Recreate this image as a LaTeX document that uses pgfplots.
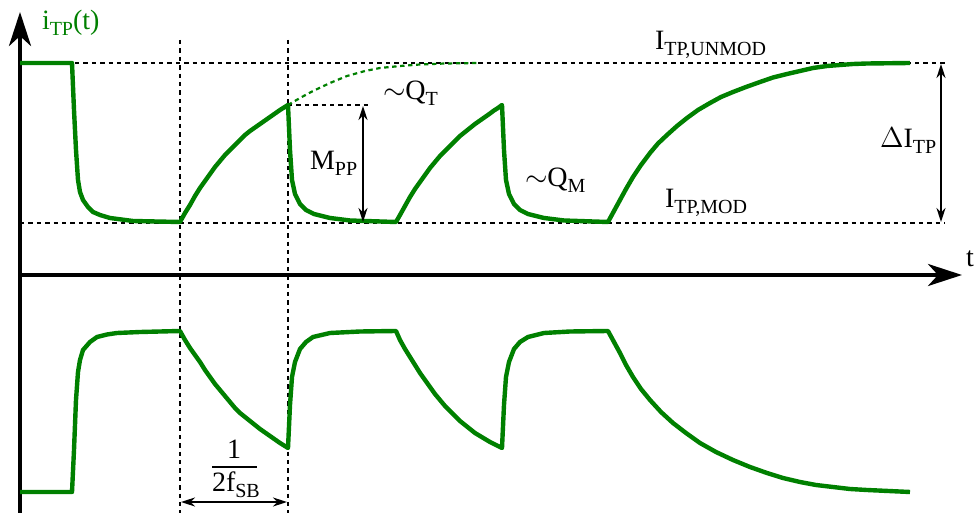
\documentclass[border=0pt]{standalone}
\usepackage{pgfplots}
\pgfplotsset{compat=1.18}
\usepackage{fontspec}
\setmainfont{Liberation Serif}
\usetikzlibrary{arrows.meta}
\definecolor{sig}{RGB}{0,128,0}
% lowered, slightly smaller subscript used in all labels
\newcommand{\sub}[1]{\raisebox{-3pt}{\fontsize{10}{11}\selectfont #1}}
\tikzset{lbl/.style={inner sep=0pt, outer sep=0pt, font=\fontsize{14}{16}\selectfont}}

\begin{document}
\begin{tikzpicture}
\begin{axis}[
  width=488pt, height=256.5pt, scale only axis,
  xmin=0, xmax=976, ymin=0, ymax=513, y dir=reverse,
  hide axis, clip=false,
]
% reference levels and time markers
\draw[line width=1pt, dash pattern=on 2.2pt off 2pt] (axis cs:75,63) -- (axis cs:945,63);
\draw[line width=1pt, dash pattern=on 2.2pt off 2pt] (axis cs:20,223) -- (axis cs:945,223);
\draw[line width=1pt, dash pattern=on 2.2pt off 2pt] (axis cs:288,105) -- (axis cs:370,105);
\draw[line width=1pt, dash pattern=on 2.2pt off 2pt] (axis cs:180,40) -- (axis cs:180,513);
\draw[line width=1pt, dash pattern=on 2.2pt off 2pt] (axis cs:288,40) -- (axis cs:288,513);

% coordinate axes
\draw[line width=2pt, -{Stealth[length=17pt,width=11pt,inset=5pt]}] (axis cs:20,513) -- (axis cs:20,12);
\draw[line width=2pt, -{Stealth[length=17pt,width=11pt,inset=5pt]}] (axis cs:18,275) -- (axis cs:962,275);

% undisturbed continuation of the first rise
\addplot[sig, line width=1.1pt, dash pattern=on 2.2pt off 1.8pt] coordinates {
  (288,105) (300,98) (313,91) (330,83) (347,76) (365,71) (380,68)
  (400,66) (420,64.5) (445,63.5) (478,63)
};

% tip current i_TP(t)
\addplot[sig, line width=2.2pt, line join=round] coordinates {
  (20,63) (72,63) (74,110) (76,150) (78,180) (80,192) (83,200) (88,207)
  (93,212) (100,215) (110,218) (133,221) (180,222)
  (185,213) (190,205) (195,196) (200,188) (205,181) (210,174) (215,167)
  (220,161) (225,155) (230,150) (235,145) (240,140) (245,135) (250,131)
  (255,127.5) (260,124) (265,120.5) (270,117) (275,113.5) (280,110) (284,107.5) (288,105)
  (290,150) (292,180) (295,194) (300,204) (306,210) (314,214) (330,218)
  (350,220.5) (396,222)
  (400,215) (405,206) (410,197) (415,189) (420,182) (425,175) (430,168)
  (435,162) (440,156) (445,151) (450,146) (455,141) (460,136) (465,132)
  (470,128) (475,124) (480,120.5) (485,117) (490,113.5) (494,110.5) (498,108) (502,105)
  (504,150) (506,180) (509,194) (514,204) (520,210) (528,214) (544,218)
  (564,220.5) (608,222)
  (614,211) (620,200) (626,189) (633,177) (641,165) (650,153) (658,143.5) (667,135)
  (677,126) (687,118) (698,110) (710,103) (721,97) (733,92) (746,87) (760,82)
  (773,77.5) (787,74) (800,71) (813,68) (827,66) (840,65) (853,64) (867,63.5) (910,63)
};

% complementary signal
\addplot[sig, line width=2.2pt, line join=round] coordinates {
  (20,492) (72,492) (74,450) (76,400) (78,372) (80,360) (83,350) (90,342)
  (97,337) (107,334.5) (117,333) (140,332) (180,331)
  (185,340) (190,348) (195,355) (200,362) (205,370) (210,377) (215,384)
  (220,390) (225,396) (230,402) (235,408) (240,413) (245,417) (250,421)
  (255,425) (260,429) (265,432.5) (270,436) (275,439.5) (280,443) (284,445.5) (288,448)
  (290,405) (292,377) (295,362) (300,349) (306,342) (313,337) (330,333)
  (360,331.5) (396,331)
  (400,340) (405,349) (410,357) (415,365) (420,373) (425,380) (430,387)
  (435,394) (440,400) (445,406) (450,411) (455,416) (460,421) (465,425)
  (470,429) (475,433) (480,436) (485,439) (490,442) (494,444) (498,446) (502,448)
  (504,405) (506,377) (509,362) (514,349) (520,342) (528,337) (544,333)
  (570,331.5) (608,331)
  (614,342) (620,353) (626,365) (633,377) (641,389) (650,400) (661,412) (673,423)
  (686,433) (700,443) (716,452) (733,460) (750,467) (767,473) (783,478) (800,482)
  (816,485) (833,487) (850,489) (867,490) (910,492)
};

% dimension arrows
\draw[line width=1pt, {Stealth[length=7pt,width=4.5pt]}-{Stealth[length=7pt,width=4.5pt]}]
  (axis cs:363,106) -- (axis cs:363,222);
\draw[line width=1pt, {Stealth[length=7pt,width=4.5pt]}-{Stealth[length=7pt,width=4.5pt]}]
  (axis cs:941,64) -- (axis cs:941,222);
\draw[line width=1pt, {Stealth[length=7pt,width=4.5pt]}-{Stealth[length=7pt,width=4.5pt]}]
  (axis cs:181,502) -- (axis cs:287,502);

% labels
\node[lbl, anchor=base west, text=sig] at (axis cs:42,30) {i\sub{TP}(t)};
\node[lbl, anchor=base west] at (axis cs:966,267) {t};
\node[lbl, anchor=base west] at (axis cs:655,50) {I\sub{TP,UNMOD}};
\node[lbl, anchor=base west] at (axis cs:665,208) {I\sub{TP,MOD}};
\node[lbl, anchor=base west] at (axis cs:880,148) {$\Delta$I\sub{TP}};
\node[lbl, anchor=base west] at (axis cs:383,100) {$\sim$Q\sub{T}};
\node[lbl, anchor=base west] at (axis cs:310,170) {M\sub{PP}};
\node[lbl, anchor=base west] at (axis cs:525,187) {$\sim$Q\sub{M}};
\node[lbl, anchor=base] at (axis cs:234,459) {1};
\draw[line width=1pt] (axis cs:212,467) -- (axis cs:257,467);
\node[lbl, anchor=base west] at (axis cs:212,492) {2f\sub{SB}};
\end{axis}
\pgfresetboundingbox
\path (0,0) rectangle (488pt,256.5pt);
\end{tikzpicture}
\end{document}
